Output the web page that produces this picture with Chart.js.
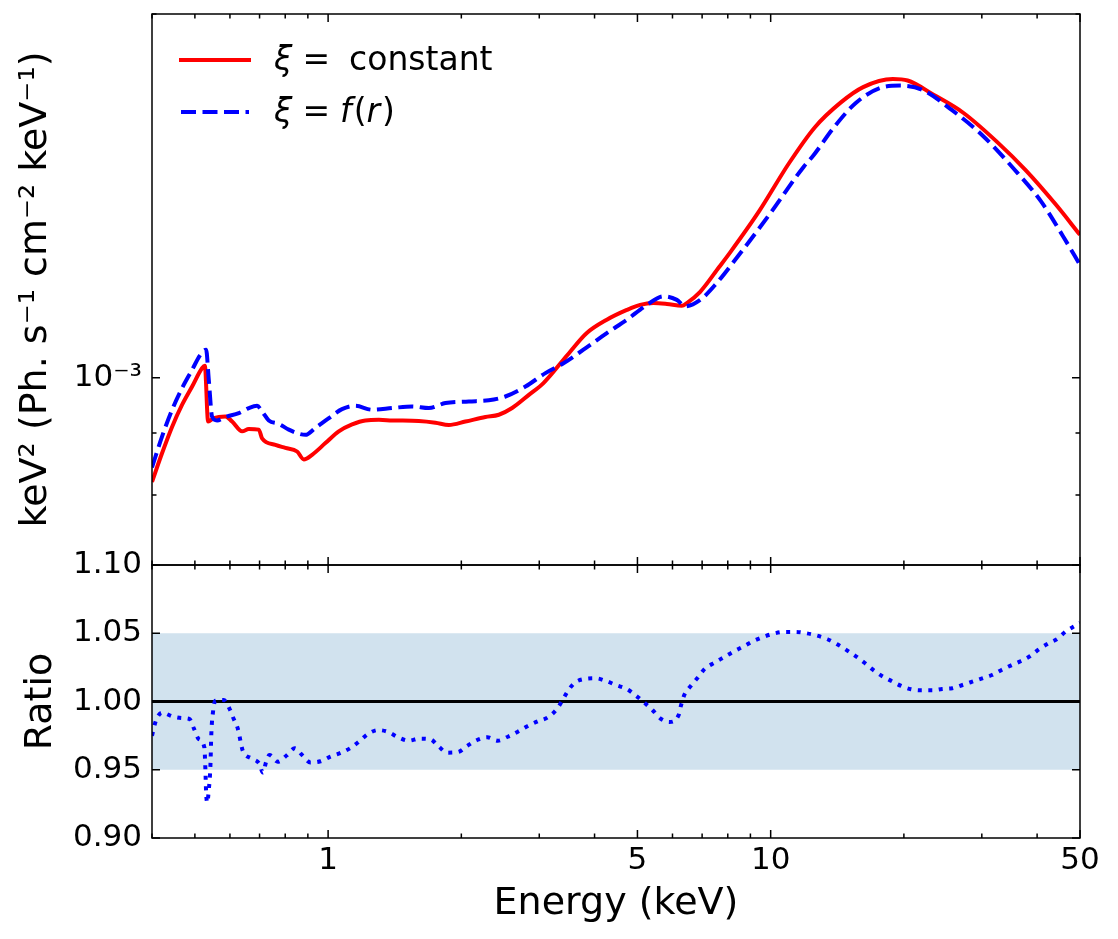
<!DOCTYPE html>
<html><head><meta charset="utf-8">
<script src="https://cdn.jsdelivr.net/npm/chart.js@4.4.1/dist/chart.umd.min.js"></script>
<style>
html,body{margin:0;padding:0;background:#fff;width:1118px;height:939px;overflow:hidden}
#wt{position:absolute;left:0;top:0;width:1118px;height:580px}
#wb{position:absolute;left:0;top:545px;width:1118px;height:394px}
canvas{display:block}
</style></head><body>
<div id="wt"><canvas id="ct" width="1118" height="580"></canvas></div>
<div id="wb"><canvas id="cb" width="1118" height="394"></canvas></div>
<script>
// ---- data (flux in units of 1e-3 keV^2 Ph s^-1 cm^-2 keV^-1) ----
const FLUX_UNIT = 1e-3;
const energyConst = [0.400,0.4214,0.4442,0.4679,0.4929,0.5193,0.5266,0.5356,0.5516,0.5859,
  0.6069,0.6392,0.6619,0.6972,0.7092,0.7601,0.8008,0.851,0.8814,0.920,
  0.986,1.057,1.133,1.214,1.302,1.395,1.603,1.748,1.874,2.043,
  2.267,2.431,2.605,2.842,3.066,3.402,3.523,3.842,4.264,4.732,
  5.071,5.436,5.828,6.300,6.466,6.930,7.649,8.101,9.435,11.00,
  12.59,14.41,16.18,18.88,20.39,23.33,27.23,32.38,37.77,44.09,50.0];
const fluxConst = [0.820,0.866,0.911,0.950,0.9835,1.0187,1.023,0.920,0.926,0.929,
  0.920,0.903,0.907,0.906,0.891,0.880,0.875,0.869,0.856,0.8636,
  0.883,0.903,0.915,0.922,0.923,0.922,0.921,0.918,0.914,0.920,
  0.928,0.932,0.944,0.968,0.990,1.035,1.051,1.089,1.117,1.138,
  1.149,1.153,1.151,1.147,1.153,1.178,1.235,1.270,1.375,1.505,
  1.612,1.69,1.74,1.767,1.762,1.715,1.657,1.569,1.484,1.391,1.313];
const energyFr = [0.400,0.4214,0.4442,0.4679,0.4929,0.5146,0.530,0.5375,0.5467,0.5612,
  0.5859,0.6284,0.6619,0.6910,0.7092,0.7344,0.7737,0.815,0.8587,0.8886,
  0.936,1.004,1.075,1.153,1.257,1.395,1.548,1.689,1.841,2.080,
  2.307,2.515,2.792,3.098,3.402,3.775,4.264,4.732,5.251,5.725,
  6.138,6.410,6.930,7.556,8.315,9.995,11.89,12.50,13.87,15.57,
  17.68,19.62,22.02,25.70,29.99,35.38,40.79,45.81,50.0];
const fluxFr = [0.843,0.894,0.941,0.9806,1.0154,1.045,1.055,0.996,0.929,0.922,
  0.928,0.935,0.944,0.948,0.938,0.922,0.916,0.906,0.899,0.897,
  0.909,0.926,0.942,0.948,0.941,0.944,0.947,0.944,0.953,0.956,
  0.958,0.965,0.9835,1.009,1.028,1.055,1.089,1.117,1.149,1.168,
  1.160,1.146,1.160,1.198,1.252,1.369,1.496,1.528,1.610,1.688,
  1.737,1.745,1.731,1.665,1.589,1.490,1.400,1.309,1.240];
const ratioEnergy = [0.400,0.4087,0.4214,0.4457,0.4679,0.4860,0.4972,0.5103,0.5254,0.5281,
  0.530,0.5329,0.5375,0.5420,0.5447,0.5495,0.5561,0.5809,0.5982,0.6120,
  0.6258,0.6413,0.6699,0.6995,0.7120,0.7245,0.7369,0.7697,0.8066,0.8407,
  0.8734,0.912,0.961,1.012,1.070,1.127,1.179,1.231,1.297,1.366,
  1.439,1.522,1.608,1.703,1.779,1.857,1.967,2.061,2.171,2.288,
  2.418,2.548,2.684,2.827,2.978,3.137,3.275,3.380,3.481,3.610,
  3.803,4.019,4.249,4.482,4.739,4.966,5.186,5.406,5.627,5.906,
  6.187,6.275,6.385,6.611,6.856,7.099,7.464,7.838,8.240,8.667,
  9.117,9.618,10.15,10.74,11.38,12.05,12.72,13.44,14.14,14.87,
  15.58,16.29,17.02,17.84,18.75,19.72,20.74,21.96,23.21,24.41,
  25.72,27.13,28.54,30.06,31.62,33.24,34.96,36.69,38.59,40.37,
  42.45,44.48,46.47,48.76,50.0];
const ratioValue = [0.975,0.9864,0.9918,0.989,0.9878,0.9872,0.9804,0.9725,0.9662,0.950,
  0.934,0.9259,0.9352,0.9523,0.9767,0.9925,1.0006,1.0011,0.995,0.9872,
  0.9796,0.964,0.9584,0.9542,0.9479,0.9559,0.9608,0.9559,0.9606,0.9657,
  0.9608,0.9554,0.9562,0.9596,0.9625,0.9662,0.9711,0.9762,0.9791,0.9777,
  0.9738,0.9713,0.9728,0.9723,0.9669,0.9625,0.963,0.9674,0.9718,0.9738,
  0.9713,0.9742,0.9779,0.9821,0.9855,0.9884,0.9938,1.0006,1.0077,1.0138,
  1.0165,1.017,1.015,1.0119,1.009,1.0042,0.9991,0.9938,0.9877,0.985,
  0.9896,0.9974,1.005,1.0117,1.0178,1.024,1.0284,1.0324,1.0365,1.0402,
  1.0441,1.0473,1.0497,1.051,1.051,1.05,1.0483,1.0456,1.0419,1.0375,
  1.0331,1.0284,1.0233,1.0187,1.015,1.0114,1.009,1.0082,1.0082,1.0092,
  1.0097,1.0121,1.0145,1.017,1.0194,1.0231,1.0265,1.0295,1.0333,1.0382,
  1.0426,1.046,1.0514,1.0555,1.0575];
const ratioBand = [0.95, 1.05];
const ratioUnity = 1.0;
const energyRange = [0.4, 50];
const fluxRange = [7e-4, 2e-3];
const ratioRange = [0.90, 1.10];
const xLabelTicks = [1, 5, 10, 50];
const xMinorTicks = [0.4,0.5,0.6,0.7,0.8,0.9,2,3,4,6,7,8,9,20,30,40];
const yTopMajor = [1e-3];
const yTopLabels = ['10\u207B\u00B3'];
const yTopMinor = [7e-4, 8e-4, 9e-4, 2e-3];
const ratioTicks = [0.90, 0.95, 1.00, 1.05, 1.10];
const legendLabels = ['\u03BE =  constant', '\u03BE = f(r)'];

// ---- styling / helpers ----
const FAM = "'DejaVu Sans', sans-serif";
const TICK_FONT = {family: FAM, size: 31};
const TITLE_FONT = {family: FAM, size: 38};
const MAJ = 8, MIN = 4.5;

const noPad = s => { s.paddingTop = 0; s.paddingBottom = 0; s.paddingLeft = 0; s.paddingRight = 0; };

const framePlugin = {
  id: 'frame',
  afterDatasetsDraw(chart, args, o) {
    const ctx = chart.ctx, a = chart.chartArea;
    const xs = chart.scales.x, ys = chart.scales.y;
    ctx.save();
    ctx.strokeStyle = '#000';
    ctx.lineWidth = 1.5;
    ctx.beginPath();
    const seg = (x1, y1, x2, y2) => { ctx.moveTo(x1, y1); ctx.lineTo(x2, y2); };
    const xt = (list, len) => list.forEach(v => { const p = xs.getPixelForValue(v); seg(p, a.top, p, a.top + len); seg(p, a.bottom, p, a.bottom - len); });
    const yt = (list, len) => list.forEach(v => { const p = ys.getPixelForValue(v); seg(a.left, p, a.left + len, p); seg(a.right, p, a.right - len, p); });
    xt(o.xMajor || [], MAJ); xt(o.xMinor || [], MIN);
    yt(o.yMajor || [], MAJ); yt(o.yMinor || [], MIN);
    ctx.stroke();
    ctx.strokeRect(a.left, a.top, a.right - a.left, a.bottom - a.top);
    ctx.restore();
  }
};

const legendPlugin = {
  id: 'mathLegend',
  afterDatasetsDraw(chart, args, o) {
    const ctx = chart.ctx;
    ctx.save();
    o.items.forEach(it => {
      ctx.strokeStyle = it.color; ctx.lineWidth = 4; ctx.setLineDash(it.dash || []);
      ctx.beginPath(); ctx.moveTo(it.x1, it.y); ctx.lineTo(it.x2, it.y); ctx.stroke();
      ctx.setLineDash([]);
      ctx.fillStyle = '#000'; ctx.textBaseline = 'alphabetic'; ctx.textAlign = 'left';
      let x = it.tx;
      it.parts.forEach(([txt, italic, gap]) => {
        ctx.font = (italic ? 'italic ' : '') + '33px ' + FAM;
        x += gap || 0;
        ctx.fillText(txt, x, it.base);
        x += ctx.measureText(txt).width;
      });
    });
    ctx.restore();
  }
};

const pts = (xs, ys, k) => xs.map((x, i) => ({x: x, y: ys[i] * (k || 1)}));

// ---- top panel ----
new Chart(document.getElementById('ct'), {
  type: 'line',
  data: { datasets: [
    { label: legendLabels[1], data: pts(energyFr, fluxFr, FLUX_UNIT), borderColor: '#0000ff', borderWidth: 4,
      borderDash: [15, 6.5], pointRadius: 0, cubicInterpolationMode: 'monotone', fill: false, order: 0 },
    { label: legendLabels[0], data: pts(energyConst, fluxConst, FLUX_UNIT), borderColor: '#ff0000', borderWidth: 4,
      pointRadius: 0, cubicInterpolationMode: 'monotone', fill: false, order: 1 }
  ]},
  options: {
    responsive: false, animation: false, devicePixelRatio: 1,
    layout: { padding: { top: 14, bottom: 15, left: 0, right: 38 } },
    plugins: {
      legend: { display: false }, tooltip: { enabled: false },
      frame: { xMajor: xLabelTicks, xMinor: xMinorTicks, yMajor: yTopMajor, yMinor: yTopMinor },
      mathLegend: { items: [
        { color: '#ff0000', x1: 179, x2: 251, y: 60, tx: 274, base: 70,
          parts: [['\u03BE', true, 0], ['=', false, 10], ['constant', false, 19]] },
        { color: '#0000ff', dash: [15, 6.5], x1: 181, x2: 249, y: 112, tx: 274, base: 122,
          parts: [['\u03BE', true, 0], ['=', false, 10], ['f', true, 10], ['(', false, 2], ['r', true, 0], [')', false, 2]] }
      ]}
    },
    scales: {
      x: { type: 'logarithmic', min: energyRange[0], max: energyRange[1], display: false, afterFit: noPad },
      y: { type: 'logarithmic', min: fluxRange[0], max: fluxRange[1],
        grid: { display: false, drawTicks: false }, border: { display: false },
        afterBuildTicks: s => { s.ticks = yTopMajor.map(v => ({ value: v })); },
        afterFit: s => { s.width = 152; noPad(s); },
        ticks: { font: TICK_FONT, color: '#000', padding: 10,
          callback: v => { const i = yTopMajor.findIndex(t => Math.abs(t - v) < 1e-12); return i >= 0 ? yTopLabels[i] : ''; } },
        title: { display: true, text: 'keV\u00B2 (Ph. s\u207B\u00B9 cm\u207B\u00B2 keV\u207B\u00B9)', font: TITLE_FONT, color: '#000',
          padding: { top: 13, bottom: 0 } }
      }
    }
  },
  plugins: [framePlugin, legendPlugin]
});

// ---- bottom panel ----
new Chart(document.getElementById('cb'), {
  type: 'line',
  data: { datasets: [
    { label: 'ratio', data: pts(ratioEnergy, ratioValue), borderColor: '#0000ff', borderWidth: 4,
      borderDash: [4, 6.5], pointRadius: 0, cubicInterpolationMode: 'monotone', fill: false, order: 0 },
    { label: 'unity', data: pts(energyRange, [ratioUnity, ratioUnity]), borderColor: '#000', borderWidth: 3,
      pointRadius: 0, fill: false, order: 1 },
    { label: 'bandHigh', data: pts(energyRange, [ratioBand[1], ratioBand[1]]), borderWidth: 0, borderColor: 'rgba(0,0,0,0)',
      pointRadius: 0, fill: '+1', backgroundColor: 'rgb(209,226,238)', order: 2 },
    { label: 'bandLow', data: pts(energyRange, [ratioBand[0], ratioBand[0]]), borderWidth: 0, borderColor: 'rgba(0,0,0,0)',
      pointRadius: 0, fill: false, order: 3 }
  ]},
  options: {
    responsive: false, animation: false, devicePixelRatio: 1,
    layout: { padding: { top: 20, bottom: 0, left: 0, right: 38 } },
    plugins: {
      legend: { display: false }, tooltip: { enabled: false },
      frame: { xMajor: xLabelTicks, xMinor: xMinorTicks, yMajor: ratioTicks, yMinor: [] }
    },
    scales: {
      x: { type: 'logarithmic', min: energyRange[0], max: energyRange[1],
        grid: { display: false, drawTicks: false }, border: { display: false },
        afterBuildTicks: s => { s.ticks = xLabelTicks.map(v => ({ value: v })); },
        afterFit: s => { s.height = 101; noPad(s); },
        ticks: { font: TICK_FONT, color: '#000', padding: 4, autoSkip: false, maxRotation: 0, minRotation: 0,
          callback: v => String(v) },
        title: { display: true, text: 'Energy (keV)', font: TITLE_FONT, color: '#000', padding: { top: 0, bottom: 12 } }
      },
      y: { min: ratioRange[0], max: ratioRange[1],
        grid: { display: false, drawTicks: false }, border: { display: false },
        afterBuildTicks: s => { s.ticks = ratioTicks.map(v => ({ value: v })); },
        afterFit: s => { s.width = 152; noPad(s); },
        ticks: { font: TICK_FONT, color: '#000', padding: 10, callback: v => Number(v).toFixed(2) },
        title: { display: true, text: 'Ratio', font: TITLE_FONT, color: '#000', padding: { top: 18, bottom: 0 } }
      }
    }
  },
  plugins: [framePlugin]
});
</script>
</body></html>
